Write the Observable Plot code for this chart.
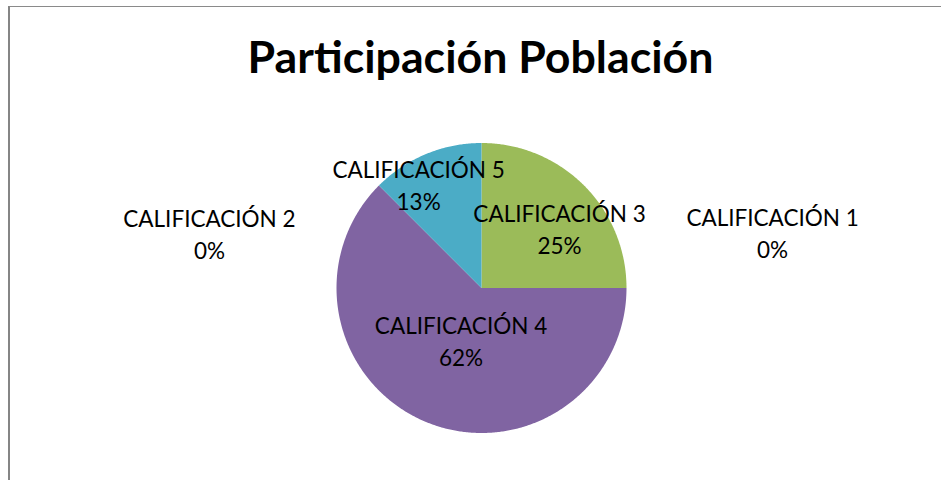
<!DOCTYPE html>
<html><head><meta charset="utf-8">
<script src="https://cdn.jsdelivr.net/npm/d3@7"></script>
<script src="https://cdn.jsdelivr.net/npm/@observablehq/plot@0.6"></script>
<style>
html,body{margin:0;padding:0;background:#fff;}
body{width:941px;height:480px;overflow:hidden;position:relative;}
#chart{position:absolute;left:0;top:0;}
#border{position:absolute;left:8px;top:6px;width:940px;height:480px;border-top:1px solid #8a8a8a;border-left:2px solid #858585;pointer-events:none;}
</style></head><body>
<div id="chart"></div><div id="border"></div>
<script>
// ---- data ----
const title = "Participación Población";
const categories = ["CALIFICACIÓN 1", "CALIFICACIÓN 2", "CALIFICACIÓN 3", "CALIFICACIÓN 4", "CALIFICACIÓN 5"];
const counts = [0, 0, 2, 5, 1];
const percentLabels = ["0%", "0%", "25%", "62%", "13%"];
const sliceColors = ["#4F81BD", "#C0504D", "#9BBB59", "#8064A2", "#4BACC6"];

// ---- label layout (polar: degrees clockwise from 12 o'clock, radius in pie radii) ----
const labelAngleDeg = [79.0, 281.4, 52.2, 201.7, 329.0];
const labelRadius = [2.045, 1.914, 0.681, 0.382, 0.842];

const W = 941, H = 480, R = 145, cx = 481, cy = 287.5;

const arcs = d3.pie().sort(null)(counts);
const slicePoints = [];
arcs.forEach((p, i) => {
  const span = p.endAngle - p.startAngle;
  if (span <= 0) return;
  slicePoints.push({category: categories[i], x: 0, y: 0});
  const n = Math.max(2, Math.ceil(span / (Math.PI / 360)));
  for (let k = 0; k <= n; k++) {
    const a = p.startAngle + span * k / n;
    slicePoints.push({category: categories[i], x: Math.sin(a), y: Math.cos(a)});
  }
});

const labels = categories.map((c, i) => {
  const a = labelAngleDeg[i] * Math.PI / 180;
  return {text: c + "\n" + percentLabels[i], x: labelRadius[i] * Math.sin(a), y: labelRadius[i] * Math.cos(a)};
});

const chart = Plot.plot({
  width: W, height: H, margin: 0,
  x: {domain: [-cx / R, (W - cx) / R], axis: null},
  y: {domain: [(cy - H) / R, cy / R], axis: null},
  color: {domain: categories, range: sliceColors},
  style: {fontFamily: "Lato, sans-serif", background: "transparent", overflow: "visible"},
  marks: [
    Plot.line(slicePoints, {x: "x", y: "y", z: "category", fill: "category", stroke: null, curve: "linear-closed"}),
    Plot.text(labels, {x: "x", y: "y", text: "text", fontSize: 22.5, lineHeight: 32 / 22.5, fill: "#000", textAnchor: "middle", lineAnchor: "middle"}),
    Plot.text([title], {x: 0, frameAnchor: "top", dy: 72, dx: -1, lineAnchor: "bottom", text: d => d, fontSize: 44.7, fontWeight: "bold", fill: "#000", textAnchor: "middle"})
  ]
});
document.getElementById("chart").appendChild(chart);
</script>
</body></html>
